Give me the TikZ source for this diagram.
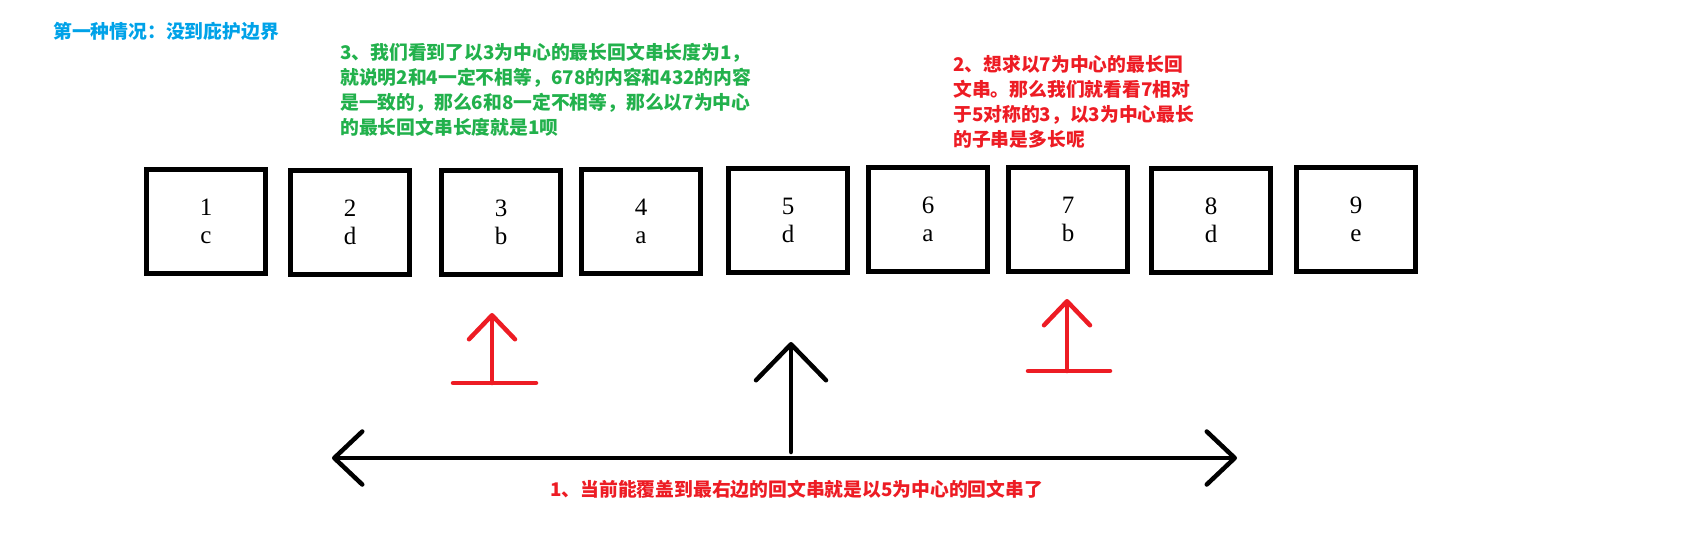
\documentclass[tikz,border=0pt]{standalone}
\usepackage{fontspec}
\setmainfont{Liberation Serif}
\newfontfamily\cjk{Noto Sans CJK SC}
\usetikzlibrary{calc}
\usetikzlibrary{arrows.meta}
\definecolor{paintred}{RGB}{237,28,36}
\definecolor{paintgreen}{RGB}{34,177,76}
\definecolor{paintblue}{RGB}{0,162,232}

\begin{document}
\begin{tikzpicture}[x=1pt, y=-1pt,
		cell/.style={draw, line width=5pt, minimum width=119pt, minimum height=104pt, align=center, font=\fontsize{25}{28}\selectfont},
		note/.style={anchor=north west, inner sep=0pt, align=left, font=\cjk\bfseries\fontsize{18.8}{25}\selectfont},
		marker/.style={draw=paintred, line width=4.5pt, line cap=round},
		pointer/.style={marker, -{Straight Barb[length=24pt, width=46pt, round]}}]
		\useasboundingbox (0,0) rectangle (1699,557);

		% title
		\node[note, text=paintblue] (title) at (53,22) {第一种情况：没到庇护边界};

		% the string
		\node[cell] (c1) at (206,221.5) {1\\c};
		\node[cell] (c2) at (350,222.5) {2\\d};
		\node[cell] (c3) at (501,222.5) {3\\b};
		\node[cell] (c4) at (641,221.5) {4\\a};
		\node[cell] (c5) at (788,220) {5\\d};
		\node[cell] (c6) at (928,219.5) {6\\a};
		\node[cell] (c7) at (1068,219) {7\\b};
		\node[cell] (c8) at (1211,220) {8\\d};
		\node[cell] (c9) at (1356,219) {9\\e};

		% notes
		\node[note, text=paintgreen] (note3) at (340,43) {3、我们看到了以3为中心的最长回文串长度为1，\\就说明2和4一定不相等，678的内容和432的内容\\是一致的，那么6和8一定不相等，那么以7为中心\\的最长回文串长度就是1呗};
		\node[note, text=paintred] (note2) at (953,55) {2、想求以7为中心的最长回\\文串。那么我们就看看7相对\\于5对称的3，以3为中心最长\\的子串是多长呢};

		% mirror point 3
		\path (492,383) coordinate (mirbase) (492,313) coordinate (mirtip);
		\draw[marker] ($(mirbase)+(-39,0)$) -- ($(mirbase)+(44,0)$);
		\draw[pointer] (mirbase) -- (mirtip);

		% current point 7
		\path (1067,371) coordinate (curbase) (1067,299) coordinate (curtip);
		\draw[marker] ($(curbase)+(-39,0)$) -- ($(curbase)+(43,0)$);
		\draw[pointer] (curbase) -- (curtip);

		% centre 5 and its palindrome
		\path (791,452) coordinate (ctrbase) (791,342) coordinate (ctrtip);
		\draw[line width=4.5pt, line cap=round, -{Straight Barb[length=36pt, width=70pt, round]}] (ctrbase) -- (ctrtip);
		\path (332,458) coordinate (spanL) (1237,458) coordinate (spanR);
		\draw[line width=4.5pt, line cap=round, {Straight Barb[length=28pt, width=53pt, round]}-{Straight Barb[length=28pt, width=53pt, round]}] (spanL) -- (spanR);
		\node[note, text=paintred] (note1) at (550,480) {1、当前能覆盖到最右边的回文串就是以5为中心的回文串了};
	\end{tikzpicture}
\end{document}
